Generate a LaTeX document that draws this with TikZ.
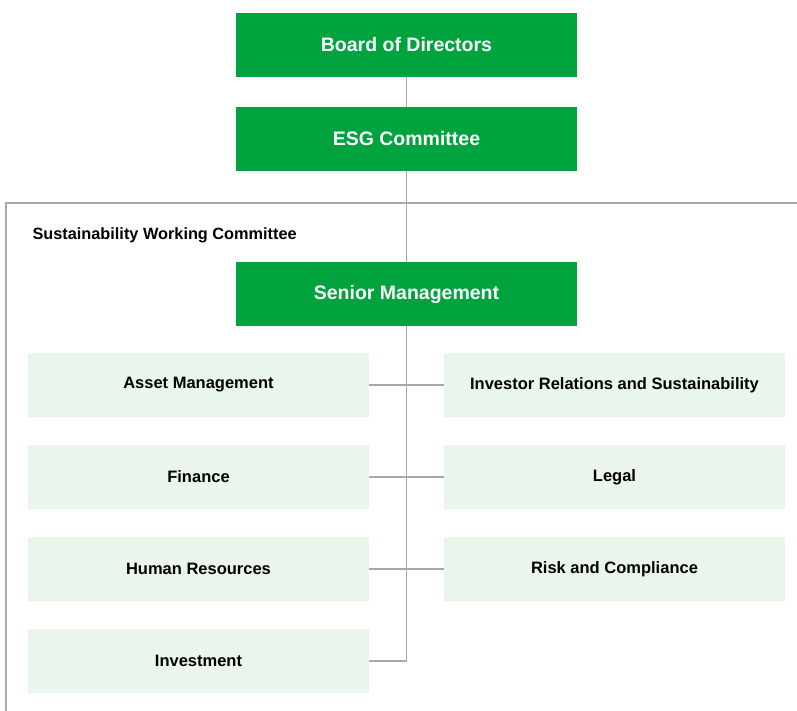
\documentclass[tikz,border=0pt]{standalone}
\usepackage{fontspec}
\setmainfont{Liberation Sans}
\definecolor{esggreen}{HTML}{00A33D}
\definecolor{palegreen}{HTML}{EAF5EC}
\definecolor{linegray}{HTML}{A8A8A8}

\begin{document}
\begin{tikzpicture}[x=1pt, y=-1pt,
    board/.style={fill=esggreen, text=white, font=\fontsize{19.5}{22}\selectfont\bfseries,
        minimum width=341pt, minimum height=64pt, inner sep=0pt},
    unit/.style={fill=palegreen, text=black, font=\fontsize{16.5}{19}\selectfont\bfseries,
        minimum width=341pt, minimum height=64pt, inner sep=0pt},
    link/.style={draw=linegray, line width=1.5pt}]
    \useasboundingbox (0,0) rectangle (797,710);

    % working committee frame
    \draw[draw=linegray, line width=2pt] (800,203) -- (6,203) -- (6,712);
    \node[anchor=west, font=\fontsize{16.3}{18}\selectfont\bfseries] (swc) at (29,235) {Sustainability Working Committee};

    % top of the chain
    \node[board] (bod) at (406.5,45) {Board of Directors};
    \node[board] (esg) at (406.5,139) {ESG Committee};
    \node[board] (sm) at (406.5,294) {Senior Management};

    % departments
    \node[unit] (am) at (198.5,385) {Asset Management};
    \node[unit] (fin) at (198.5,477) {Finance};
    \node[unit] (hr) at (198.5,569) {Human Resources};
    \node[unit] (inv) at (198.5,661) {Investment};
    \node[unit] (irs) at (614.5,385) {Investor Relations and Sustainability};
    \node[unit] (leg) at (614.5,477) {Legal};
    \node[unit] (rc) at (614.5,569) {Risk and Compliance};

    \draw[link] (bod.south) -- (esg.north);
    \draw[link] (esg.south) -- (sm.north);
    \draw[link] (sm.south) |- (inv.east);
    \draw[link] (am.east) -- (irs.west);
    \draw[link] (fin.east) -- (leg.west);
    \draw[link] (hr.east) -- (rc.west);
\end{tikzpicture}
\end{document}
